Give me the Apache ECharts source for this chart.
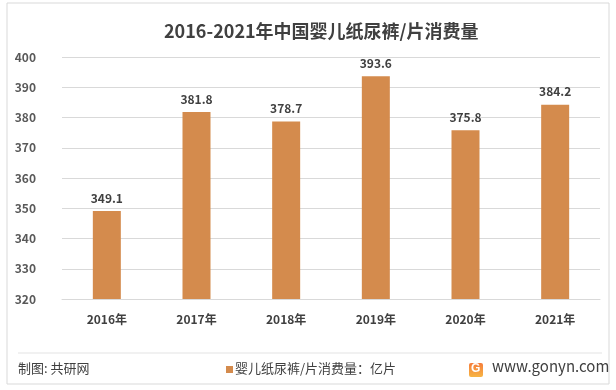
<!DOCTYPE html>
<html><head><meta charset="utf-8">
<script src="https://cdn.jsdelivr.net/npm/echarts@6/dist/echarts.min.js"></script>
<style>html,body{margin:0;padding:0;background:#fff}#c{width:616px;height:390px}</style>
</head><body><div id="c"></div>
<script>
const categories = ['2016年','2017年','2018年','2019年','2020年','2021年'];
const values = [349.1, 381.8, 378.7, 393.6, 375.8, 384.2];
const yTicks = [320, 330, 340, 350, 360, 370, 380, 390, 400];
const titleText = '2016-2021年中国婴儿纸尿裤/片消费量';
const seriesName = '婴儿纸尿裤/片消费量：亿片';
const sourceText = '制图: 共研网';
const siteText = 'www.gonyn.com';

const chart = echarts.init(document.getElementById('c'));
const font = '"Noto Sans CJK SC", "Noto Sans", sans-serif';
chart.setOption({
  animation: false,
  textStyle: {fontFamily: font},
  title: {text: titleText, left: 159, top: 17,
    textStyle: {fontSize: 18, fontWeight: 'bold', color: '#404040', fontFamily: font}},
  grid: {left: 62, right: 16, top: 57, bottom: 91},
  xAxis: {type: 'category', data: categories,
    axisLine: {lineStyle: {color: '#d9d9d9'}}, axisTick: {show: false},
    axisLabel: {color: '#404040', fontSize: 12, fontWeight: 'bold', margin: 14}},
  yAxis: {type: 'value', min: yTicks[0], max: yTicks[yTicks.length-1], interval: 10,
    axisLine: {show: false}, axisTick: {show: false},
    axisLabel: {color: '#595959', fontSize: 12, fontWeight: 'bold', margin: 26},
    splitLine: {lineStyle: {color: '#d9d9d9'}}},
  series: [{name: seriesName, type: 'bar', data: values, barWidth: 28,
    itemStyle: {color: '#D48B4D'},
    label: {show: true, position: 'top', color: '#404040', fontSize: 12, fontWeight: 'bold', distance: 7}}],
  graphic: [
    {type: 'rect', shape: {x: 7, y: 3, width: 602, height: 381}, style: {fill: 'none', stroke: '#d9d9d9', lineWidth: 1}, silent: true},
    {type: 'line', shape: {x1: 18, y1: 353, x2: 602, y2: 353}, style: {stroke: '#e3e3e3', lineWidth: 1}},
    {type: 'text', left: 18, top: 362, style: {text: sourceText, fill: '#404040', font: '13px ' + font}},
    {type: 'rect', shape: {x: 226, y: 366, width: 7, height: 7}, style: {fill: '#D48B4D'}},
    {type: 'text', left: 235, top: 362, style: {text: seriesName, fill: '#404040', font: '13px ' + font}},
    {type: 'rect', shape: {x: 469, y: 363, width: 14, height: 14, r: 2},
      style: {fill: new echarts.graphic.LinearGradient(0, 0, 0, 1, [{offset: 0, color: '#F57C3A'}, {offset: 1, color: '#F7B544'}])}},
    {type: 'text', left: 471, top: 363, style: {text: 'G', fill: '#fff', font: 'bold 12px sans-serif'}},
    {type: 'text', left: 492, top: 359, style: {text: siteText, fill: '#404040', font: '15px ' + font}}
  ]
});
</script></body></html>
